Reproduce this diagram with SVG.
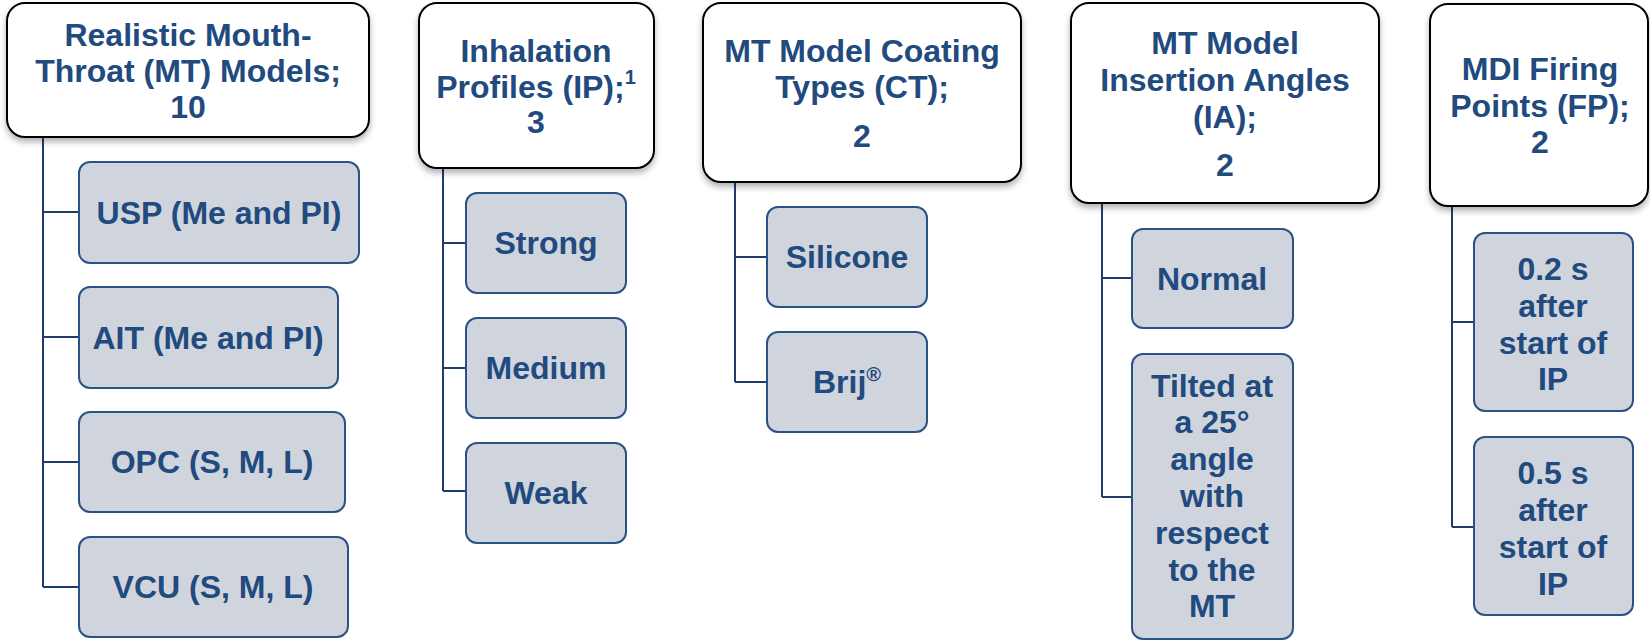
<svg xmlns="http://www.w3.org/2000/svg" width="1650" height="641" viewBox="0 0 1650 641">
<defs>
<filter id="sh" x="-10%" y="-10%" width="120%" height="130%">
<feDropShadow dx="0" dy="4" stdDeviation="3" flood-color="#000" flood-opacity="0.3"/>
</filter>
</defs>
<style>
.hdr{fill:#fff;stroke:#000;stroke-width:2;filter:url(#sh)}
.ch{fill:#d0d4dd;stroke:#2a5286;stroke-width:2}
.t{font-family:"Liberation Sans",Arial,sans-serif;font-weight:bold;font-size:32px;fill:#214a7e;text-anchor:middle}
.sup{font-size:20px}
.ln{fill:none;stroke:#1f3d6b;stroke-width:2}
</style>
<rect width="1650" height="641" fill="#fff"/>
<g id="connectors">
<path class="ln" d="M43 137 V587 M43 212 H79 M43 337 H79 M43 462 H79 M43 587 H79"/>
<path class="ln" d="M443 168 V491 M443 243 H466 M443 368 H466 M443 491 H466"/>
<path class="ln" d="M735 182 V382 M735 257 H767 M735 382 H767"/>
<path class="ln" d="M1102 203 V497 M1102 278 H1132 M1102 497 H1132"/>
<path class="ln" d="M1452 206 V527 M1452 322 H1474 M1452 527 H1474"/>
</g>
<g id="h1">
<rect class="hdr" x="7" y="3" width="362" height="134" rx="18"/>
<text class="t" x="188" y="46">Realistic Mouth-</text>
<text class="t" x="188" y="82">Throat (MT) Models;</text>
<text class="t" x="188" y="118">10</text>
</g>
<g id="c1a"><rect class="ch" x="79" y="162" width="280" height="101" rx="11"/><text class="t" x="219" y="224">USP (Me and PI)</text></g>
<g id="c1b"><rect class="ch" x="79" y="287" width="259" height="101" rx="11"/><text class="t" x="208" y="349">AIT (Me and PI)</text></g>
<g id="c1c"><rect class="ch" x="79" y="412" width="266" height="100" rx="11"/><text class="t" x="212" y="473">OPC (S, M, L)</text></g>
<g id="c1d"><rect class="ch" x="79" y="537" width="269" height="100" rx="11"/><text class="t" x="213" y="598">VCU (S, M, L)</text></g>
<g id="h2">
<rect class="hdr" x="419" y="3" width="235" height="165" rx="18"/>
<text class="t" x="536" y="62">Inhalation</text>
<text class="t" x="536" y="98">Profiles (IP);<tspan class="sup" dy="-14">1</tspan></text>
<text class="t" x="536" y="133">3</text>
</g>
<g id="c2a"><rect class="ch" x="466" y="193" width="160" height="100" rx="11"/><text class="t" x="546" y="254">Strong</text></g>
<g id="c2b"><rect class="ch" x="466" y="318" width="160" height="100" rx="11"/><text class="t" x="546" y="379">Medium</text></g>
<g id="c2c"><rect class="ch" x="466" y="443" width="160" height="100" rx="11"/><text class="t" x="546" y="504">Weak</text></g>
<g id="h3">
<rect class="hdr" x="703" y="3" width="318" height="179" rx="18"/>
<text class="t" x="862" y="62">MT Model Coating</text>
<text class="t" x="862" y="98">Types (CT);</text>
<text class="t" x="862" y="147">2</text>
</g>
<g id="c3a"><rect class="ch" x="767" y="207" width="160" height="100" rx="11"/><text class="t" x="847" y="268">Silicone</text></g>
<g id="c3b"><rect class="ch" x="767" y="332" width="160" height="100" rx="11"/><text class="t" x="847" y="393">Brij<tspan class="sup" dy="-12">®</tspan></text></g>
<g id="h4">
<rect class="hdr" x="1071" y="3" width="308" height="200" rx="18"/>
<text class="t" x="1225" y="54">MT Model</text>
<text class="t" x="1225" y="91">Insertion Angles</text>
<text class="t" x="1225" y="128">(IA);</text>
<text class="t" x="1225" y="176">2</text>
</g>
<g id="c4a"><rect class="ch" x="1132" y="229" width="161" height="99" rx="11"/><text class="t" x="1212" y="290">Normal</text></g>
<g id="c4b"><rect class="ch" x="1132" y="354" width="161" height="285" rx="11"/>
<text class="t" x="1212" y="397">Tilted at</text>
<text class="t" x="1212" y="433">a 25°</text>
<text class="t" x="1212" y="470">angle</text>
<text class="t" x="1212" y="507">with</text>
<text class="t" x="1212" y="544">respect</text>
<text class="t" x="1212" y="581">to the</text>
<text class="t" x="1212" y="617">MT</text>
</g>
<g id="h5">
<rect class="hdr" x="1430" y="4" width="218" height="202" rx="18"/>
<text class="t" x="1540" y="80">MDI Firing</text>
<text class="t" x="1540" y="117">Points (FP);</text>
<text class="t" x="1540" y="153">2</text>
</g>
<g id="c5a"><rect class="ch" x="1474" y="233" width="159" height="178" rx="11"/>
<text class="t" x="1553" y="280">0.2 s</text>
<text class="t" x="1553" y="317">after</text>
<text class="t" x="1553" y="354">start of</text>
<text class="t" x="1553" y="390">IP</text>
</g>
<g id="c5b"><rect class="ch" x="1474" y="437" width="159" height="178" rx="11"/>
<text class="t" x="1553" y="484">0.5 s</text>
<text class="t" x="1553" y="521">after</text>
<text class="t" x="1553" y="558">start of</text>
<text class="t" x="1553" y="595">IP</text>
</g>
</svg>
